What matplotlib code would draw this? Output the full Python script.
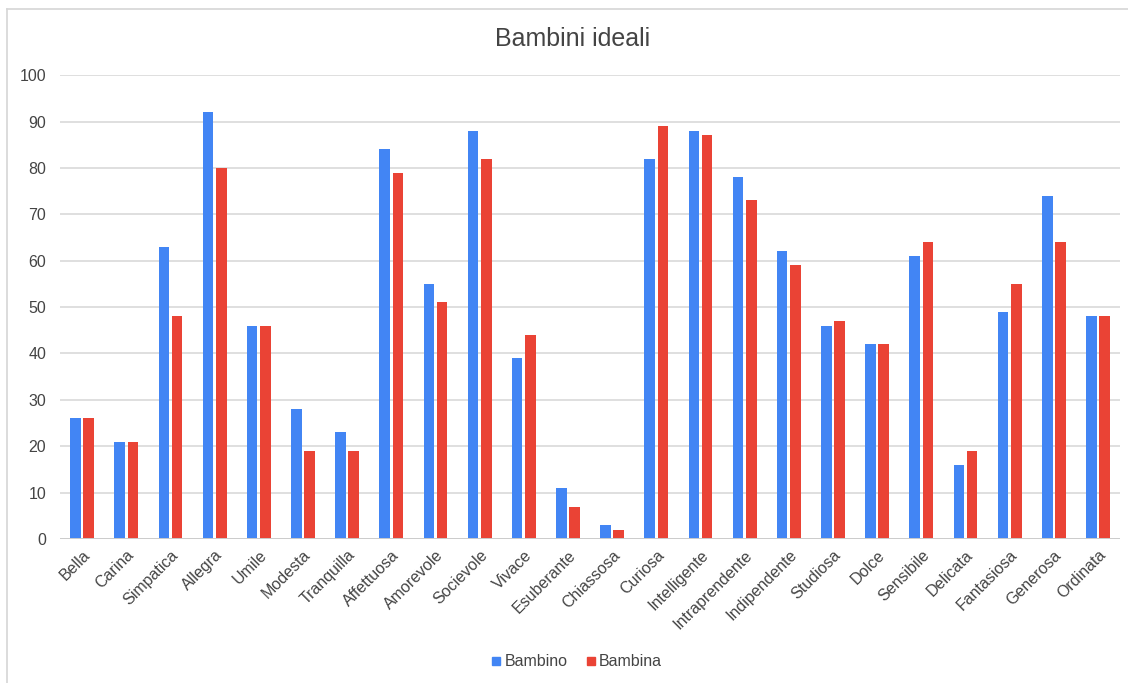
import matplotlib
matplotlib.use("Agg")
import matplotlib.pyplot as plt
import numpy as np
from matplotlib.lines import Line2D

categories = ["Bella", "Carina", "Simpatica", "Allegra", "Umile", "Modesta",
              "Tranquilla", "Affettuosa", "Amorevole", "Socievole", "Vivace",
              "Esuberante", "Chiassosa", "Curiosa", "Intelligente",
              "Intraprendente", "Indipendente", "Studiosa", "Dolce",
              "Sensibile", "Delicata", "Fantasiosa", "Generosa", "Ordinata"]
bambino = [26, 21, 63, 92, 46, 28, 23, 84, 55, 88, 39, 11, 3, 82, 88, 78,
           62, 46, 42, 61, 16, 49, 74, 48]
bambina = [26, 21, 48, 80, 46, 19, 19, 79, 51, 82, 44, 7, 2, 89, 87, 73,
           59, 47, 42, 64, 19, 55, 64, 48]
series_names = ["Bambino", "Bambina"]
colors = ["#4285F4", "#EA4335"]
yticks = [0, 10, 20, 30, 40, 50, 60, 70, 80, 90, 100]

plt.rcParams["font.family"] = ["Liberation Sans", "DejaVu Sans"]
fig = plt.figure(figsize=(11.28, 6.83), dpi=100)
ax = fig.add_axes([0.0532, 0.2108, 0.9398, 0.6792])

x = np.arange(len(categories))
bw = 0.24
off = 0.15
ax.bar(x - off, bambino, width=bw, color=colors[0], zorder=3)
ax.bar(x + off, bambina, width=bw, color=colors[1], zorder=3)

ax.set_xlim(-0.5, len(categories) - 0.5)
ax.set_ylim(0, 100)
ax.set_yticks(yticks)
ax.yaxis.grid(True, color="#d9d9d9", linewidth=1.2, zorder=0)
ax.axhline(0, color="#cccccc", linewidth=1.4, zorder=4)
for s in ax.spines.values():
    s.set_visible(False)
ax.tick_params(axis="both", length=0, colors="#444444", labelsize=11.5)
ax.tick_params(axis="y", pad=10)
ax.set_xticks(x)
ax.set_xticklabels(categories, rotation=45, ha="right", va="top",
                   rotation_mode="anchor")
ax.tick_params(axis="x", pad=6)

fig.text(0.508, 0.943, "Bambini ideali", ha="center", va="center",
         fontsize=18, color="#444444")

handles = [Line2D([], [], marker="s", linestyle="none", markersize=6,
                  color=c) for c in colors]
fig.legend(handles, series_names, loc="center", bbox_to_anchor=(0.51, 0.031),
           ncol=2, frameon=False, fontsize=11.5, handletextpad=0.0,
           handlelength=1.0, columnspacing=1.0, labelcolor="#444444")

# light frame along the left and top edges of the chart
fig.add_artist(Line2D([7 / 1128, 7 / 1128], [0, 1 - 8.5 / 683],
                      transform=fig.transFigure, color="#d6d6d6", lw=1.2))
fig.add_artist(Line2D([7 / 1128, 1], [1 - 8.5 / 683, 1 - 8.5 / 683],
                      transform=fig.transFigure, color="#d6d6d6", lw=1.2))

fig.savefig("out.png", dpi=100, facecolor="white")
